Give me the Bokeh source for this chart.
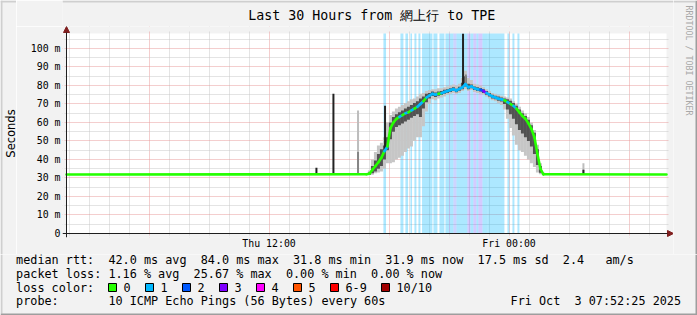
import math
from bokeh.plotting import figure
from bokeh.layouts import column, row
from bokeh.models import (FixedTicker, Arrow, NormalHead, BoxAnnotation, Range1d)
from bokeh.core.properties import value
from bokeh.embed import file_html
from bokeh.resources import INLINE

# ---------------- data (hours since Thu 00:00, values in ms) ----------------
T_START = 1.8736   # Thu 01:52:25
T_END = 31.8736    # Fri 07:52:25
Y_TOP = 108.1
FLAT_MED = 31.9

act_t = [16.87, 17.02, 17.17, 17.32, 17.47, 17.62, 17.77, 17.92, 18.07, 18.22,
         18.37, 18.52, 18.67, 18.82, 18.97, 19.12, 19.27, 19.42, 19.57, 19.72,
         19.87, 20.02, 20.17, 20.32, 20.47, 20.62, 20.77, 20.92, 21.07, 21.22,
         21.37, 21.52, 21.67, 21.82, 21.97, 22.12, 22.27, 22.42, 22.57, 22.72,
         22.87, 23.02, 23.17, 23.32, 23.47, 23.62, 23.77, 23.92, 24.07, 24.22,
         24.37, 24.52, 24.67, 24.82, 24.97, 25.12, 25.27, 25.42, 25.57, 25.72]
act_med = [32.0, 32.3, 34.5, 36.5, 38.5, 41.0, 44.5, 47.0, 57.0, 60.0,
           62.0, 63.0, 64.0, 65.0, 65.5, 66.5, 67.5, 68.5, 70.0, 71.5,
           73.5, 74.5, 75.5, 75.0, 75.5, 75.8, 76.5, 77.0, 77.5, 78.0,
           77.3, 78.2, 79.0, 80.8, 79.0, 79.5, 78.5, 78.0, 77.7, 77.0,
           76.0, 75.0, 74.0, 73.5, 72.8, 72.5, 72.0, 71.0, 70.0, 69.0,
           67.5, 65.5, 63.5, 62.0, 59.5, 56.5, 52.0, 43.0, 35.0, 32.0]
act_loss = [0, 0, 0, 0, 0, 0, 0, 1, 0, 0,
            0, 0, 1, 0, 1, 0, 1, 0, 1, 1,
            0, 1, 1, 1, 1, 0, 1, 1, 1, 1,
            1, 1, 1, 1, 1, 1, 1, 1, 1, 2,
            3, 1, 1, 1, 1, 1, 1, 0, 1, 0,
            1, 0, 0, 0, 0, 0, 0, 0, 0, 0]
smoke_lo = [31.8, 31.6, 31.8, 32.5, 33.0, 33.5, 35.0, 38.0, 38.0, 38.5,
            40.0, 41.0, 42.0, 44.0, 46.0, 47.0, 50.0, 52.0, 52.0, 58.0,
            66.0, 70.0, 72.5, 72.0, 73.0, 73.5, 74.0, 75.0, 75.5, 76.0,
            75.5, 76.0, 77.0, 78.0, 77.0, 77.5, 76.5, 76.0, 75.5, 75.0,
            74.0, 73.0, 72.0, 71.5, 70.5, 69.5, 67.0, 62.0, 57.0, 53.0,
            48.0, 45.0, 44.0, 42.0, 40.0, 38.0, 36.0, 33.0, 32.0, 31.6]
smoke_hi = [32.3, 34.0, 40.0, 44.0, 47.5, 49.0, 52.0, 60.0, 64.0, 66.0,
            67.5, 68.5, 69.5, 70.5, 71.5, 72.5, 73.0, 74.0, 75.5, 76.0,
            77.0, 77.5, 78.0, 78.0, 78.5, 78.5, 79.0, 79.5, 80.0, 80.5,
            80.0, 81.0, 84.0, 88.0, 84.0, 83.0, 81.0, 80.5, 80.0, 79.0,
            78.0, 77.0, 76.0, 75.5, 75.0, 74.5, 74.0, 73.5, 73.0, 71.5,
            70.0, 68.5, 66.5, 65.0, 63.0, 60.0, 56.0, 48.0, 38.0, 33.0]
core_lo = [31.9, 31.8, 32.5, 33.5, 35.0, 36.5, 40.0, 45.0, 51.0, 55.0,
           57.5, 58.5, 59.5, 60.5, 61.5, 62.5, 63.5, 64.5, 63.0, 67.5,
           71.0, 73.0, 74.3, 73.8, 74.5, 74.8, 75.5, 76.0, 76.5, 77.0,
           76.3, 77.2, 78.0, 79.5, 78.0, 78.5, 77.5, 77.0, 76.7, 76.0,
           75.0, 74.0, 73.0, 72.5, 71.8, 71.3, 70.0, 67.0, 64.5, 62.0,
           59.0, 56.0, 54.0, 52.0, 50.0, 47.0, 43.0, 37.0, 32.8, 31.8]
core_hi = [32.1, 33.0, 36.5, 39.5, 43.0, 45.5, 47.5, 52.0, 60.0, 63.0,
           64.5, 65.5, 66.5, 67.5, 68.5, 69.5, 70.5, 71.5, 73.0, 74.0,
           75.5, 76.0, 76.7, 76.2, 76.7, 77.0, 77.7, 78.0, 78.5, 79.0,
           78.3, 79.3, 81.5, 85.0, 81.0, 80.5, 79.5, 79.0, 78.7, 78.0,
           77.0, 76.0, 75.0, 74.5, 74.0, 73.5, 73.0, 72.5, 71.8, 70.5,
           69.0, 67.0, 65.0, 63.5, 61.5, 58.5, 54.5, 45.5, 36.5, 32.5]

# isolated single-sample smoke spikes (shade: 0 light, 1 mid, 2 dark)
spike_t = [14.37, 15.22, 16.45, 16.45, 17.80, 21.70, 21.84, 27.72, 27.72]
spike_lo = [32.0, 32.0, 32.0, 32.0, 44.0, 79.0, 80.0, 32.0, 32.0]
spike_hi = [35.5, 75.5, 66.5, 44.0, 69.0, 108.0, 86.0, 38.0, 34.5]
spike_shade = [2, 2, 0, 1, 2, 2, 1, 0, 2]

# packet-loss background bars
bar_start = [17.72, 18.57, 18.82, 19.07, 19.27, 19.47, 19.65, 20.22, 20.52, 20.82,
             21.00, 21.05, 21.22, 21.37, 21.92, 22.07, 22.22, 22.37, 22.47, 22.67,
             22.92, 23.92, 24.17, 24.42]
bar_end = [17.85, 18.72, 18.95, 19.15, 19.37, 19.57, 20.17, 20.42, 20.77, 21.00,
           21.05, 21.22, 21.37, 21.92, 22.07, 22.22, 22.37, 22.47, 22.67, 22.92,
           23.77, 24.02, 24.27, 24.52]
bar_level = [1, 1, 1, 1, 1, 1, 1, 1, 1, 1,
             2, 1, 2, 1, 3, 1, 3, 1, 3, 1,
             1, 1, 1, 1]

y_ticks = [0, 10, 20, 30, 40, 50, 60, 70, 80, 90, 100]
y_tick_labels = ["0", "10 m", "20 m", "30 m", "40 m", "50 m", "60 m", "70 m",
                 "80 m", "90 m", "100 m"]
x_ticks = [6, 12, 18, 24, 30]
x_tick_labels = ["", "Thu 12:00", "", "Fri 00:00", ""]

loss_names = ["0", "1", "2", "3", "4", "5", "6-9", "10/10"]
loss_colors = ["#26ff00", "#00b8ff", "#0059ff", "#7e00ff", "#ff00ff",
               "#ff5500", "#ff0000", "#a10000"]

title_text = "Last 30 Hours from 網上行 to TPE"
y_label_text = "Seconds"
watermark_text = "RRDTOOL / TOBI OETIKER"
row1 = [("median rtt:", 0), ("42.0 ms avg", 13), ("84.0 ms max", 26),
        ("31.8 ms min", 39), ("31.9 ms now", 52), ("17.5 ms sd", 65),
        ("2.4", 77), ("am/s", 83)]
row2 = [("packet loss:", 0), ("1.16 % avg", 13), ("25.67 % max", 25),
        ("0.00 % min", 38), ("0.00 % now", 50)]
row3_label = "loss color:"
row4 = [("probe:", 0), ("10 ICMP Echo Pings (56 Bytes) every 60s", 13)]
date_parts = [("Fri Oct", 0), ("3 07:52:25 2025", 9)]

# ---------------- geometry / style ----------------
W, H = 697, 315
BG = "#f2f2f2"
SHADE_A = "#cfcfcf"
SHADE_B = "#9e9e9e"
MONO = "DejaVu Sans Mono"
PX_PER_H = 20.0
PX_PER_MS = 200.0 / Y_TOP
PLOT_L, PLOT_T, PLOT_R, PLOT_B = 66, 33, 666, 233     # white plot area (canvas px)
FR_L, FR_T, FR_R, FR_B = 62, 26, 673, 237             # bokeh frame (canvas px)
LEFT_W = 16
TOP_H = 26
MID_B = 254


def hx(px):
    return T_START + (px - PLOT_L) / PX_PER_H


def vy(py):
    return (PLOT_B - py) / PX_PER_MS


def strip(x0, x1, y0, y1):
    f = figure(width=x1 - x0, height=y1 - y0, output_backend="svg",
               toolbar_location=None, x_range=Range1d(x0, x1),
               y_range=Range1d(y1, y0), x_axis_type=None, y_axis_type=None,
               min_border=0, title=None)
    f.min_border_left = f.min_border_right = 0
    f.min_border_top = f.min_border_bottom = 0
    f.background_fill_color = BG
    f.border_fill_color = BG
    f.outline_line_color = None
    f.grid.visible = False
    return f


def band(f, l, r, t, b, col):
    f.quad(left=[l], right=[r], top=[t], bottom=[b], fill_color=col, line_color=None)


def txt(f, xs, ys, texts, size, align="left", angle=0.0, color="#000000", font=MONO):
    f.text(x=xs, y=ys, text=texts, text_font=value(font), text_font_size=f"{size}px",
           text_align=align, text_baseline="middle", text_color=color, angle=angle)


# ---------------- main plot ----------------
p = figure(width=FR_R - LEFT_W, height=MID_B - TOP_H, output_backend="svg",
           toolbar_location=None,
           x_range=Range1d(hx(FR_L), hx(FR_R)), y_range=Range1d(vy(FR_B), vy(FR_T)),
           min_border_left=FR_L - LEFT_W, min_border_right=0, min_border_top=0,
           min_border_bottom=MID_B - FR_B, title=None)
p.background_fill_color = BG
p.border_fill_color = BG
p.outline_line_color = None

minor_h = [h for h in range(2, 32) if h % 6]
p.xaxis.ticker = FixedTicker(ticks=x_ticks, minor_ticks=minor_h)
p.xaxis.major_label_overrides = dict(zip(x_ticks, x_tick_labels))
p.yaxis.ticker = FixedTicker(ticks=y_ticks, minor_ticks=[])
p.yaxis.major_label_overrides = dict(zip(y_ticks, y_tick_labels))
for ax in (p.xaxis[0], p.yaxis[0]):
    ax.axis_line_color = None
    ax.major_tick_line_color = None
    ax.minor_tick_line_color = None
    ax.major_tick_in = 0
    ax.major_tick_out = 0
    ax.minor_tick_in = 0
    ax.minor_tick_out = 0
    ax.major_label_text_font = MONO
    ax.major_label_text_font_size = "9.9px"
    ax.major_label_text_color = "#000000"
p.xaxis[0].major_label_standoff = 0
p.yaxis[0].major_label_standoff = 2

p.xgrid.ticker = FixedTicker(ticks=x_ticks, minor_ticks=minor_h)
p.ygrid.ticker = FixedTicker(ticks=y_ticks[1:], minor_ticks=[v + 5 for v in y_ticks])
for g in (p.xgrid[0], p.ygrid[0]):
    g.grid_line_color = "#e89c9c"
    g.grid_line_dash = "1 1"
    g.grid_line_width = 1
    g.minor_grid_line_color = "#c8c8c8"
    g.minor_grid_line_dash = "1 1"
    g.minor_grid_line_width = 1

# white plotting canvas under the grid
white = BoxAnnotation(left=T_START, right=T_END, bottom=0, top=Y_TOP,
                      fill_color="#ffffff", fill_alpha=1.0, line_color=None,
                      level="underlay")
p.center = [white] + list(p.center)
# trim grid overshoot to 2 px past the canvas, like rrdtool
for l, r, b, t in [(hx(FR_L), hx(PLOT_L - 2), vy(FR_B), vy(FR_T)),
                   (hx(PLOT_R + 2), hx(FR_R), vy(FR_B), vy(FR_T)),
                   (hx(FR_L), hx(FR_R), vy(PLOT_T - 2), vy(FR_T)),
                   (hx(FR_L), hx(FR_R), vy(FR_B), vy(PLOT_B + 2))]:
    p.add_layout(BoxAnnotation(left=l, right=r, bottom=b, top=t, fill_color=BG,
                               fill_alpha=1.0, line_color=None, level="underlay"))

# loss bars
bar_rgba = {1: "rgba(0,184,255,0.32)", 2: "rgba(60,90,255,0.26)",
            3: "rgba(100,70,255,0.28)"}
p.quad(left=bar_start, right=bar_end, bottom=[0] * len(bar_start),
       top=[Y_TOP] * len(bar_start),
       fill_color=[bar_rgba[l] for l in bar_level], line_color=None)

# smoke
DT = 0.15
sl = [t - DT / 2 for t in act_t]
sr = [t + DT / 2 for t in act_t]
p.quad(left=sl, right=sr, bottom=smoke_lo, top=smoke_hi,
       fill_color="#c6c6c6", line_color=None)
p.quad(left=sl, right=sr, bottom=core_lo, top=core_hi,
       fill_color="#525252", line_color=None)
shade_col = {0: "#bdbdbd", 1: "#858585", 2: "#222222"}
p.quad(left=[t - 0.05 for t in spike_t], right=[t + 0.05 for t in spike_t],
       bottom=spike_lo, top=spike_hi,
       fill_color=[shade_col[s] for s in spike_shade], line_color=None)

# median line coloured by loss
med_t = [T_START] + act_t + [T_END]
med_v = [FLAT_MED] + act_med + [FLAT_MED]
med_l = [0] + act_loss + [0]
p.segment(x0=med_t[:-1], y0=med_v[:-1], x1=med_t[1:], y1=med_v[1:],
          line_color=[loss_colors[l] for l in med_l[1:]], line_width=2.6,
          line_cap="round")

# axis lines with arrow heads
head_col = "#801f1f"
p.add_layout(Arrow(x_start=hx(FR_L), y_start=0, x_end=hx(FR_R), y_end=0,
                   line_color="#1f1f1f", line_width=1,
                   end=NormalHead(size=6, fill_color=head_col, line_color=head_col)))
p.add_layout(Arrow(x_start=T_START, y_start=vy(FR_B), x_end=T_START, y_end=vy(FR_T),
                   line_color="#1f1f1f", line_width=1,
                   end=NormalHead(size=6, fill_color=head_col, line_color=head_col)))

# ---------------- surrounding strips (title, labels, legend, frame) ----------------
left = strip(0, LEFT_W, 0, MID_B)
band(left, 0, 2, 0, MID_B, SHADE_A)
band(left, 0, LEFT_W, 0, 2, SHADE_A)
txt(left, [10], [133], [y_label_text], 11.5, align="center", angle=math.pi / 2,
    font="DejaVu Sans")

top = strip(LEFT_W, FR_R, 0, TOP_H)
band(top, LEFT_W, FR_R, 0, 2, SHADE_A)
txt(top, [348.5], [15], [title_text], 13.3, align="center")

right = strip(FR_R, W, 0, MID_B)
band(right, FR_R, W - 2, 0, 2, SHADE_A)
band(right, W - 2, W, 0, MID_B, SHADE_B)
txt(right, [688], [5], [watermark_text], 8.3, angle=-math.pi / 2, color="#a8a8a8")

leg = strip(0, W, MID_B, H)
band(leg, 0, 2, MID_B, H - 2, SHADE_A)
band(leg, W - 2, W, MID_B, H, SHADE_B)
band(leg, 0, W, H - 2, H, SHADE_B)
CW = 7.1
X0 = 15.6
xs, ys, ts = [], [], []
for rowdef, yy in ((row1, 259), (row2, 273), (row4, 300.5)):
    for s, c in rowdef:
        xs.append(X0 + c * CW)
        ys.append(yy)
        ts.append(s)
xs.append(X0)
ys.append(287)
ts.append(row3_label)
date_x = 680.5 - 24 * CW
for s, c in date_parts:
    xs.append(date_x + c * CW)
    ys.append(300.5)
    ts.append(s)
box_left = [108, 145, 182, 219, 256, 293, 330, 381]
for bx, name in zip(box_left, loss_names):
    xs.append(bx + 15)
    ys.append(287)
    ts.append(name)
txt(leg, xs, ys, ts, 11.8)
leg.quad(left=box_left, right=[b + 8 for b in box_left], top=[283] * 8,
         bottom=[291] * 8, fill_color=loss_colors, line_color="#000000",
         line_width=1)

layout = column(row(left, column(top, p, spacing=0), right, spacing=0), leg,
                spacing=0)
open("out.html", "w").write(file_html(layout, INLINE))
